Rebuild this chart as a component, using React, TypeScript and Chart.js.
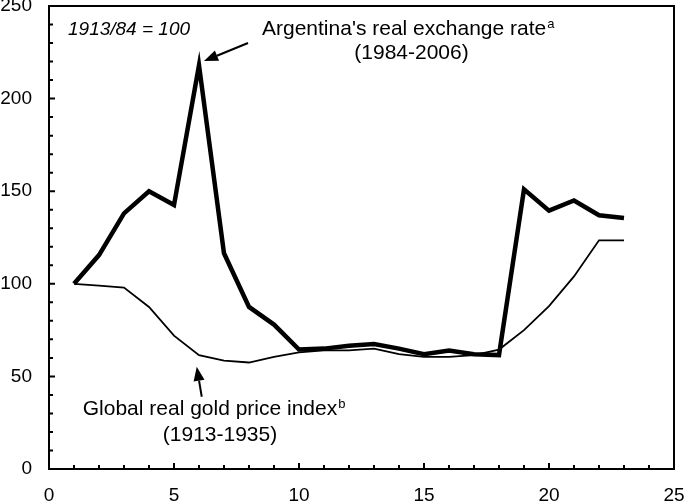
import { useEffect, useRef } from "react"
import { Chart, registerables } from "chart.js"
import type { Plugin } from "chart.js"

Chart.register(...registerables)

// Year index since the base year (1 = 1913 / 1984)
const periods = [1, 2, 3, 4, 5, 6, 7, 8, 9, 10, 11, 12, 13, 14, 15, 16, 17, 18, 19, 20, 21, 22, 23]
const argentinaRate = [100, 115.5, 138, 150, 142.5, 218, 116.5, 87.5, 78, 64.5, 65, 66.5, 67.5, 65, 62, 64, 62, 61.5, 151, 139.5, 145, 137, 135.5]
const goldPrice = [100, 99, 98, 87.5, 72, 61.5, 58.5, 57.5, 60.5, 63, 64, 64, 65, 62, 60.5, 60.5, 61.5, 64.5, 75, 88, 104, 123.5, 123.5]

const xTickValues = [0, 5, 10, 15, 20, 25]
const yTickValues = [0, 50, 100, 150, 200, 250]

const FONT = "'Liberation Sans', Arial, sans-serif"

// Notes placed in data space
const notes = [
  { text: "1913/84 = 100", sup: "", x: 0.76, y: 234.3, align: "left", italic: true, size: 19 },
  { text: "Argentina's real exchange rate", sup: "a", x: 8.52, y: 234.3, align: "left", italic: false, size: 21 },
  { text: "(1984-2006)", sup: "", x: 14.5, y: 221.4, align: "center", italic: false, size: 21 },
  { text: "Global real gold price index", sup: "b", x: 1.35, y: 29.2, align: "left", italic: false, size: 21 },
  { text: "(1913-1935)", sup: "", x: 6.84, y: 15.1, align: "center", italic: false, size: 21 },
]

const arrows = [
  { fromX: 7.96, fromY: 230.0, toX: 6.2, toY: 220.3 },
  { fromX: 6.11, fromY: 39.0, toX: 5.91, toY: 55.2 },
]

const frameAndTicks: Plugin = {
  id: "frameAndTicks",
  afterDatasetsDraw(chart) {
    const { ctx, chartArea } = chart
    const xs = chart.scales.x
    const ys = chart.scales.y
    ctx.save()
    ctx.strokeStyle = "#000"
    ctx.lineWidth = 2
    ctx.strokeRect(chartArea.left, chartArea.top, chartArea.right - chartArea.left, chartArea.bottom - chartArea.top)

    // inward tick marks, minor every 1 / 10
    ctx.beginPath()
    for (let v = 0; v <= 25; v += 1) {
      const px = xs.getPixelForValue(v)
      const len = v % 5 === 0 ? 6 : 4
      ctx.moveTo(px, chartArea.bottom)
      ctx.lineTo(px, chartArea.bottom - len)
    }
    for (let v = 0; v <= 250; v += 10) {
      const py = ys.getPixelForValue(v)
      const len = v % 50 === 0 ? 6 : 4
      ctx.moveTo(chartArea.left, py)
      ctx.lineTo(chartArea.left + len, py)
    }
    ctx.stroke()

    // annotations
    ctx.fillStyle = "#000"
    ctx.textBaseline = "alphabetic"
    ctx.textAlign = "left"
    notes.forEach((n) => {
      const mainFont = `${n.italic ? "italic " : ""}${n.size}px ${FONT}`
      const supFont = `13px ${FONT}`
      ctx.font = mainFont
      const w1 = ctx.measureText(n.text).width
      ctx.font = supFont
      const w2 = n.sup ? ctx.measureText(n.sup).width + 1 : 0
      const px = xs.getPixelForValue(n.x)
      const py = ys.getPixelForValue(n.y)
      const start = n.align === "center" ? px - (w1 + w2) / 2 : px
      ctx.font = mainFont
      ctx.fillText(n.text, start, py)
      if (n.sup) {
        ctx.font = supFont
        ctx.fillText(n.sup, start + w1 + 1, py - 7)
      }
    })

    arrows.forEach((a) => {
      const x1 = xs.getPixelForValue(a.fromX)
      const y1 = ys.getPixelForValue(a.fromY)
      const x2 = xs.getPixelForValue(a.toX)
      const y2 = ys.getPixelForValue(a.toY)
      const ang = Math.atan2(y2 - y1, x2 - x1)
      const headLen = 14
      const headW = 5.5
      const bx = x2 - headLen * Math.cos(ang)
      const by = y2 - headLen * Math.sin(ang)
      ctx.lineWidth = 2
      ctx.beginPath()
      ctx.moveTo(x1, y1)
      ctx.lineTo(bx, by)
      ctx.stroke()
      ctx.beginPath()
      ctx.moveTo(x2, y2)
      ctx.lineTo(bx + headW * Math.sin(ang), by - headW * Math.cos(ang))
      ctx.lineTo(bx - headW * Math.sin(ang), by + headW * Math.cos(ang))
      ctx.closePath()
      ctx.fill()
    })
    ctx.restore()
  },
}

export default function App() {
  const canvasRef = useRef<HTMLCanvasElement>(null)
  const chartRef = useRef<Chart | null>(null)

  useEffect(() => {
    document.body.style.margin = "0"
    if (!canvasRef.current) return
    if (chartRef.current) chartRef.current.destroy()

    chartRef.current = new Chart(canvasRef.current, {
      type: "line",
      data: {
        labels: periods,
        datasets: [
          {
            label: "Global real gold price index",
            data: periods.map((p, i) => ({ x: p, y: goldPrice[i] })),
            borderColor: "#000",
            borderWidth: 1.8,
            pointRadius: 0,
            tension: 0,
          },
          {
            label: "Argentina's real exchange rate",
            data: periods.map((p, i) => ({ x: p, y: argentinaRate[i] })),
            borderColor: "#000",
            borderWidth: 4.5,
            pointRadius: 0,
            tension: 0,
            borderJoinStyle: "miter",
          },
        ],
      },
      options: {
        responsive: true,
        maintainAspectRatio: false,
        animation: false,
        layout: { padding: 0 },
        plugins: {
          legend: { display: false },
          tooltip: { enabled: false },
        },
        scales: {
          x: {
            type: "linear",
            min: 0,
            max: 25,
            grid: { display: false, drawTicks: false },
            border: { display: false },
            afterBuildTicks: (axis) => {
              axis.ticks = xTickValues.map((v) => ({ value: v }))
            },
            afterFit: (axis) => {
              axis.height = 32
              axis.paddingLeft = 0
              axis.paddingRight = 11
            },
            ticks: {
              color: "#000",
              padding: 15,
              maxRotation: 0,
              font: { family: FONT, size: 19, lineHeight: 1.2 },
            },
          },
          y: {
            min: 0,
            max: 250,
            grid: { display: false, drawTicks: false },
            border: { display: false },
            afterBuildTicks: (axis) => {
              axis.ticks = yTickValues.map((v) => ({ value: v }))
            },
            afterFit: (axis) => {
              axis.width = 49
              axis.paddingTop = 6
              axis.paddingBottom = 0
            },
            ticks: {
              color: "#000",
              padding: 17,
              font: { family: FONT, size: 19, lineHeight: 1.2 },
            },
          },
        },
      },
      plugins: [frameAndTicks],
    })

    return () => {
      if (chartRef.current) {
        chartRef.current.destroy()
        chartRef.current = null
      }
    }
  }, [])

  return (
    <div style={{ width: 685, height: 501, position: "relative" }}>
      <canvas ref={canvasRef} />
    </div>
  )
}
